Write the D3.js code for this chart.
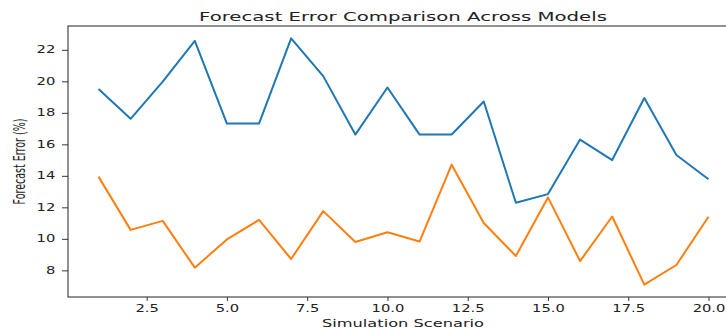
<html>
    <head>
        <meta charset="UTF-8">
        <title>Forecast Error Comparison Across Models</title>
        <script src="https://cdn.jsdelivr.net/npm/d3@7"></script>
        <style>
            body { margin: 0; background: #fff; }
            text { font-family: "DejaVu Sans", sans-serif; fill: #222; }
        </style>
    </head>
    <body>
        <div id="chart"></div>

        <script>
            //-----------------------------------------
            // values
            var scenarios = [1, 2, 3, 4, 5, 6, 7, 8, 9, 10, 11, 12, 13, 14, 15, 16, 17, 18, 19, 20];
            var modelA = [19.51, 17.62, 19.98, 22.57, 17.32, 17.32, 22.73, 20.33, 16.62, 19.61,
                          16.62, 16.62, 18.72, 12.29, 12.84, 16.30, 15.00, 18.94, 15.32, 13.78];
            var modelB = [13.95, 10.57, 11.14, 8.17, 9.96, 11.20, 8.72, 11.76, 9.80, 10.42,
                          9.83, 14.71, 11.01, 8.91, 12.63, 8.59, 11.42, 7.09, 8.34, 11.40];
            var xTicks = [2.5, 5.0, 7.5, 10.0, 12.5, 15.0, 17.5, 20.0];
            var yTicks = [8, 10, 12, 14, 16, 18, 20, 22];
            var seriesColors = ["#1f77b4", "#ff7f0e"];

            var W = 726, H = 329;
            var plotLeft = 68, plotTop = 26, plotBottom = 297, plotRight = 739;
            var stretch = 1.5; // the picture is wider than tall, text looks stretched

            var svg = d3.select("#chart").append("svg")
                    .attr("width", W)
                    .attr("height", H);

            // matplotlib style 5% margins
            var xPad = (d3.max(scenarios) - d3.min(scenarios)) * 0.05;
            var allVals = modelA.concat(modelB);
            var yPad = (d3.max(allVals) - d3.min(allVals)) * 0.05;

            var x = d3.scaleLinear()
                    .domain([d3.min(scenarios) - xPad, d3.max(scenarios) + xPad])
                    .range([plotLeft, plotRight]);
            var y = d3.scaleLinear()
                    .domain([d3.min(allVals) - yPad, d3.max(allVals) + yPad])
                    .range([plotBottom, plotTop]);

            //-----------------------------------------
            function stretchText(sel) {
                sel.each(function () {
                    var t = d3.select(this);
                    var tx = +t.attr("x") || 0;
                    t.attr("transform", "translate(" + tx + ",0) scale(" + stretch + ",1) translate(" + (-tx) + ",0)");
                });
            }

            var xAxis = svg.append("g")
                    .attr("transform", "translate(0," + plotBottom + ")")
                    .call(d3.axisBottom(x).tickValues(xTicks).tickFormat(d3.format(".1f"))
                            .tickSize(4).tickPadding(4).tickSizeOuter(0));
            var yAxis = svg.append("g")
                    .attr("transform", "translate(" + plotLeft + ",0)")
                    .call(d3.axisLeft(y).tickValues(yTicks).tickFormat(d3.format("d"))
                            .tickSize(6).tickPadding(4.5).tickSizeOuter(0));

            svg.selectAll(".tick text")
                    .style("font-family", "DejaVu Sans")
                    .style("font-size", "9.8px")
                    .attr("fill", "#222");
            yAxis.selectAll(".tick text").attr("x", -6 - 4.5 * stretch).call(stretchText);
            xAxis.selectAll(".tick text").call(stretchText);
            svg.selectAll(".tick line").attr("stroke", "#222").attr("stroke-width", 0.9);
            svg.selectAll(".domain").remove();

            // spines
            svg.append("rect")
                    .attr("x", plotLeft)
                    .attr("y", plotTop)
                    .attr("width", plotRight - plotLeft)
                    .attr("height", plotBottom - plotTop)
                    .attr("fill", "none")
                    .attr("stroke", "#222")
                    .attr("stroke-width", 1);

            //-----------------------------------------
            var line = d3.line()
                    .x(function (d) { return x(d[0]); })
                    .y(function (d) { return y(d[1]); });

            [modelA, modelB].forEach(function (vals, i) {
                svg.append("path")
                        .datum(d3.zip(scenarios, vals))
                        .attr("d", line)
                        .attr("fill", "none")
                        .attr("stroke", seriesColors[i])
                        .attr("stroke-width", 2)
                        .attr("stroke-linejoin", "round");
            });

            //-----------------------------------------
            svg.append("text")
                    .attr("x", 403)
                    .attr("y", 20.5)
                    .attr("text-anchor", "middle")
                    .attr("textLength", 408)
                    .attr("lengthAdjust", "spacingAndGlyphs")
                    .style("font-size", "13px")
                    .text("Forecast Error Comparison Across Models");

            svg.append("text")
                    .attr("x", 403)
                    .attr("y", 326.5)
                    .attr("text-anchor", "middle")
                    .attr("textLength", 162)
                    .attr("lengthAdjust", "spacingAndGlyphs")
                    .style("font-size", "10.5px")
                    .text("Simulation Scenario");

            svg.append("text")
                    .attr("transform", "translate(25," + ((plotTop + plotBottom) / 2) + ") scale(" + stretch + ",1) rotate(-90)")
                    .attr("text-anchor", "middle")
                    .attr("textLength", 86)
                    .attr("lengthAdjust", "spacingAndGlyphs")
                    .style("font-size", "10.5px")
                    .text("Forecast Error (%)");
        </script>
    </body>
</html>
